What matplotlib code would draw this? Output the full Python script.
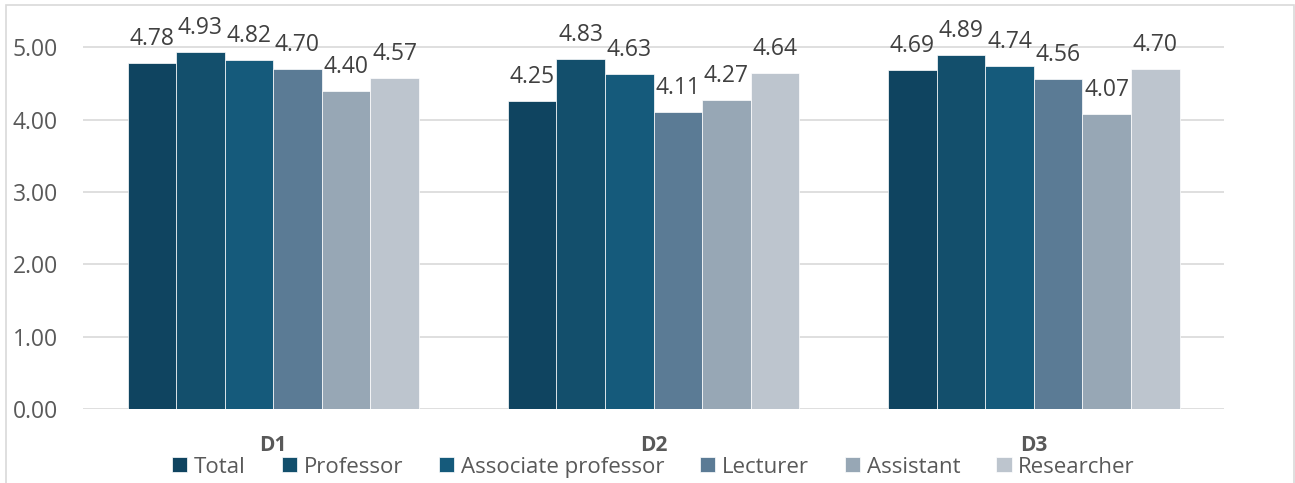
import numpy as np
import matplotlib.pyplot as plt
from matplotlib.patches import Rectangle

categories = ['D1', 'D2', 'D3']
series = ['Total', 'Professor', 'Associate professor', 'Lecturer', 'Assistant', 'Researcher']
total = [4.78, 4.25, 4.69]
professor = [4.93, 4.83, 4.89]
assoc_prof = [4.82, 4.63, 4.74]
lecturer = [4.70, 4.11, 4.56]
assistant = [4.40, 4.27, 4.07]
researcher = [4.57, 4.64, 4.70]
values = [total, professor, assoc_prof, lecturer, assistant, researcher]
colors = ['#0f4460', '#134f6c', '#155a7b', '#5b7b95', '#97a7b5', '#bdc5ce']

plt.rcParams['font.family'] = ['Open Sans', 'DejaVu Sans']

fig = plt.figure(figsize=(12.95, 4.83), dpi=100)
ax = fig.add_axes([0.0641, 0.1532, 0.8811, 0.824])

x = np.arange(len(categories))
w = 0.766 / len(series)
for i, (name, vals, c) in enumerate(zip(series, values, colors)):
    pos = x - 0.383 + w * (i + 0.5)
    bars = ax.bar(pos, vals, w, color=c, label=name, edgecolor='white', linewidth=0.5, zorder=3)
    for b, v in zip(bars, vals):
        ax.annotate('%.2f' % v, (b.get_x() + b.get_width() / 2, v),
                    xytext=(0, 13), textcoords='offset points',
                    ha='center', va='baseline', fontsize=16.5, color='#404040')

ax.set_xlim(-0.5, 2.5)
ax.set_ylim(0, 5.5)
ax.set_yticks(np.arange(0, 5.01, 1))
ax.set_yticklabels(['%.2f' % t for t in np.arange(0, 5.01, 1)])
ax.yaxis.grid(True, color='#d9d9d9', linewidth=1.2, zorder=0)
for s in ax.spines.values():
    s.set_visible(False)
ax.tick_params(axis='y', length=0, labelsize=16.5, labelcolor='#595959', pad=18)
ax.set_xticks(x)
ax.set_xticklabels(categories, fontsize=15, fontweight='bold', color='#595959')
ax.tick_params(axis='x', length=0, pad=19)

ax.legend(loc='center', bbox_to_anchor=(0.5, -0.146), ncol=6, frameon=False,
          fontsize=16, handlelength=0.68, handleheight=0.68, handletextpad=0.3,
          columnspacing=1.62, labelcolor='#595959')

fig.patches.append(Rectangle((0.005, -0.01), 0.994, 1.0, transform=fig.transFigure,
                             fill=False, edgecolor='#d9d9d9', linewidth=1.2))

fig.savefig('out.png', dpi=100)
